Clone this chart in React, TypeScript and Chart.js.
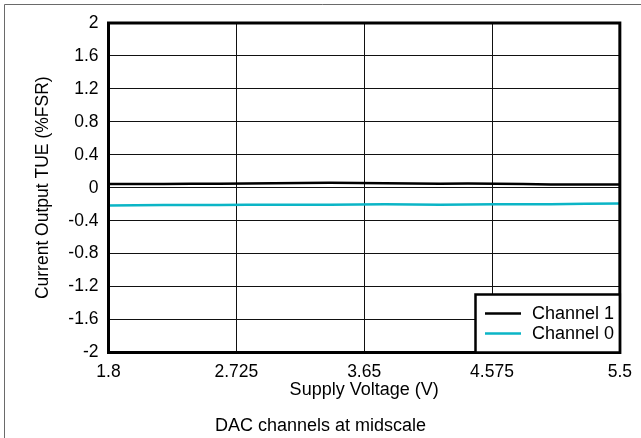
import React, { useEffect, useRef } from "react";
import { Chart, registerables } from "chart.js";

Chart.register(...registerables);

const voltages = [1.8, 2.2, 2.6, 3.0, 3.4, 3.8, 4.2, 4.6, 5.0, 5.5];
const channel1 = [0.045, 0.045, 0.05, 0.055, 0.06, 0.055, 0.05, 0.05, 0.04, 0.04];
const channel0 = [-0.215, -0.21, -0.21, -0.205, -0.205, -0.2, -0.205, -0.2, -0.2, -0.19];
const xTicks = [1.8, 2.725, 3.65, 4.575, 5.5];
const yTicks = [-2, -1.6, -1.2, -0.8, -0.4, 0, 0.4, 0.8, 1.2, 1.6, 2];
const seriesNames = ["Channel 1", "Channel 0"];
const seriesColors = ["#000000", "#0bb5c6"];
const xTitle = "Supply Voltage (V)";
const yTitle = "Current Output TUE (%FSR)";
const caption = "DAC channels at midscale";

const FONT = "'Liberation Sans', Arial, sans-serif";

const decorPlugin = {
  id: "decor",
  beforeDraw(chart: any) {
    const { ctx } = chart;
    ctx.save();
    ctx.fillStyle = "#ffffff";
    ctx.fillRect(0, 0, chart.width, chart.height);
    ctx.strokeStyle = "#6a6a6a";
    ctx.lineWidth = 1;
    ctx.beginPath();
    ctx.moveTo(4.5, chart.height);
    ctx.lineTo(4.5, 4.5);
    ctx.lineTo(chart.width, 4.5);
    ctx.stroke();
    ctx.restore();
  },
  afterDatasetsDraw(chart: any) {
    const { ctx, chartArea: a } = chart;
    ctx.save();
    // plot border
    ctx.strokeStyle = "#000";
    ctx.lineWidth = 3;
    ctx.strokeRect(a.left, a.top, a.right - a.left, a.bottom - a.top);
    // legend box
    const lx = 475.5;
    const ly = 294.5;
    const lw = a.right - lx;
    const lh = a.bottom - ly;
    ctx.fillStyle = "#fff";
    ctx.fillRect(lx, ly, lw, lh);
    ctx.lineWidth = 2.5;
    ctx.strokeRect(lx, ly, lw, lh);
    ctx.font = `18px ${FONT}`;
    ctx.textBaseline = "middle";
    ctx.textAlign = "left";
    seriesNames.forEach((name, i) => {
      const y = 313.5 + i * 20;
      ctx.strokeStyle = seriesColors[i];
      ctx.lineWidth = 2.5;
      ctx.beginPath();
      ctx.moveTo(485, y);
      ctx.lineTo(521, y);
      ctx.stroke();
      ctx.fillStyle = "#000";
      ctx.fillText(name, 532, y + 1);
    });
    // caption
    ctx.font = `18px ${FONT}`;
    ctx.textAlign = "center";
    ctx.fillText(caption, 320.5, 426);
    ctx.restore();
  },
};

export default function App() {
  const ref = useRef<HTMLCanvasElement | null>(null);
  useEffect(() => {
    document.body.style.margin = "0";
    const canvas = ref.current!;
    const chart = new Chart(canvas, {
      type: "line",
      data: {
        datasets: seriesNames.map((name, i) => ({
          label: name,
          data: voltages.map((v, j) => ({ x: v, y: (i === 0 ? channel1 : channel0)[j] })),
          borderColor: seriesColors[i],
          borderWidth: 2.5,
          pointRadius: 0,
          tension: 0.3,
          fill: false,
        })),
      },
      options: {
        responsive: false,
        animation: false,
        devicePixelRatio: 1,
        layout: { padding: { top: 23, right: 15.5, left: 0, bottom: 0 } },
        plugins: { legend: { display: false }, tooltip: { enabled: false }, title: { display: false } },
        scales: {
          x: {
            type: "linear",
            min: 1.8,
            max: 5.5,
            afterBuildTicks: (s: any) => {
              s.ticks = xTicks.map((v) => ({ value: v }));
            },
            afterFit: (s: any) => {
              s.height = 438 - 352.5;
            },
            grid: { color: "#111", lineWidth: 1, drawTicks: false },
            border: { display: false },
            ticks: {
              padding: 9,
              maxRotation: 0,
              autoSkip: false,
              color: "#000",
              font: { family: FONT, size: 17.5 },
              callback: (v: any) => String(v),
            },
            title: {
              display: true,
              text: xTitle,
              color: "#000",
              font: { family: FONT, size: 18 },
              padding: { top: 0, bottom: 37 },
            },
          },
          y: {
            type: "linear",
            min: -2,
            max: 2,
            afterBuildTicks: (s: any) => {
              s.ticks = yTicks.map((v) => ({ value: v }));
            },
            afterFit: (s: any) => {
              s.width = 108.5;
            },
            grid: { color: "#111", lineWidth: 1, drawTicks: false },
            border: { display: false },
            ticks: {
              padding: 10,
              autoSkip: false,
              color: "#000",
              font: { family: FONT, size: 17.5 },
              callback: (v: any) => String(v),
            },
            title: {
              display: true,
              text: yTitle,
              color: "#000",
              font: { family: FONT, size: 17.5 },
              padding: { top: 33, bottom: 0 },
            },
          },
        },
      },
      plugins: [decorPlugin],
    });
    return () => chart.destroy();
  }, []);
  return (
    <div style={{ position: "absolute", left: 0, top: 0, width: 641, height: 438 }}>
      <canvas ref={ref} width={641} height={438} style={{ display: "block", width: 641, height: 438 }} />
    </div>
  );
}
